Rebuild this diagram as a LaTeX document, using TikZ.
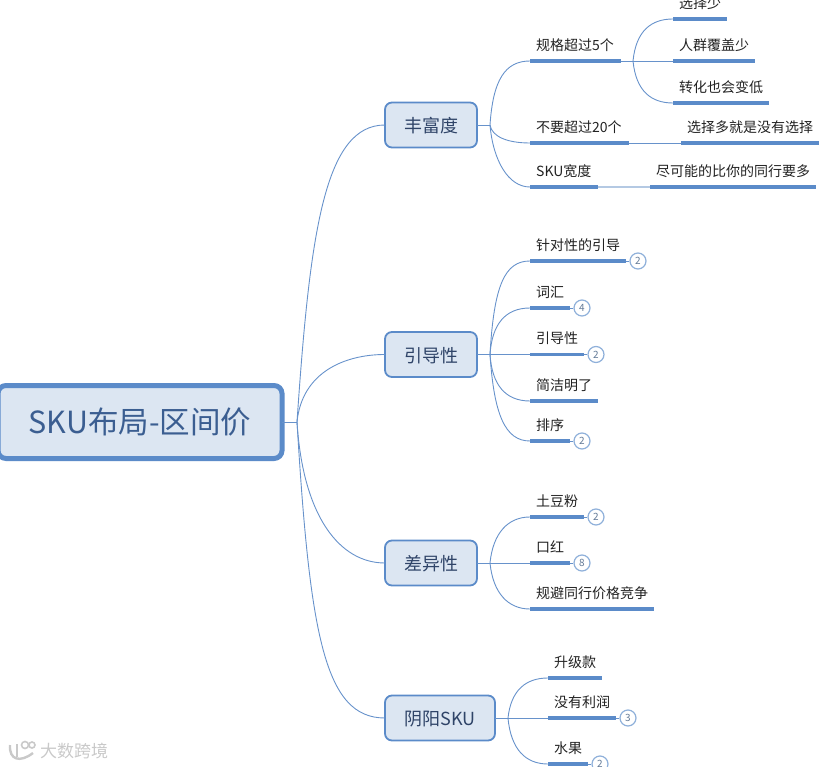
\documentclass[tikz,border=0pt]{standalone}
\usepackage{fontspec}
\setmainfont{Noto Sans CJK SC}
\usetikzlibrary{positioning}
\definecolor{mm-line}{HTML}{6792CB}
\definecolor{mm-bar}{HTML}{5B8BC9}
\definecolor{mm-soft}{HTML}{B4C9E3}
\definecolor{mm-ring}{HTML}{8FB0DA}
\definecolor{mm-fill}{HTML}{DCE6F2}
\definecolor{mm-title}{HTML}{3B5E91}
\definecolor{mm-topic}{HTML}{2F4468}
\definecolor{mm-text}{HTML}{222222}
\definecolor{mm-mark}{HTML}{C9C9C9}

\begin{document}
\begin{tikzpicture}[
    x=1pt, y=-1pt,
    root/.style={draw=mm-bar, fill=mm-fill, line width=5pt, rounded corners=8pt, minimum width=284pt, minimum height=73pt, text=mm-title, font=\fontsize{30.5}{34}\selectfont, outer sep=0pt},
    topic/.style={draw=mm-bar, fill=mm-fill, line width=1.8pt, rounded corners=7pt, minimum height=45pt, text height=18pt, text depth=2.4pt, text=mm-topic, font=\fontsize{18}{22}\selectfont, outer sep=0pt},
    bar/.style={fill=mm-bar, inner sep=0pt, minimum height=3.4pt, anchor=west, outer sep=0pt},
    leaf/.style={anchor=west, inner sep=0pt, text=mm-text, font=\fontsize{14}{17}\selectfont},
    count/.style={circle, draw=mm-ring, fill=white, line width=1.2pt, minimum size=16pt, inner sep=0pt, text=mm-ring!70!black, font=\fontsize{10}{12}\selectfont},
    conn/.style={draw=mm-line, line width=0.9pt},
    soft/.style={draw=mm-soft, line width=1.4pt}
]
\useasboundingbox (0,0) rectangle (819,767);
\clip (0,0) rectangle (819,767);

% =========================================================================
% ROOT AND THE FOUR TOPICS
% =========================================================================
\node[root] (root) at (140,422) {SKU布局-区间价};
\coordinate (hubroot) at (297,422);

\node[topic, minimum width=92pt] (rich) at (431,125) {丰富度};
\node[topic, minimum width=92pt] (guide) at (431,354.5) {引导性};
\node[topic, minimum width=92pt] (diff) at (431,563) {差异性};
\node[topic, minimum width=110pt] (yinyang) at (440,718) {阴阳SKU};

\draw[conn] (root.east) -- (hubroot);
\draw[conn] (hubroot) .. controls +(13,-192) and +(-60,0) .. (rich.west);
\draw[conn] (hubroot) .. controls +(5,-50) and +(-40,0) .. (guide.west);
\draw[conn] (hubroot) .. controls +(6,95) and +(-45,0) .. (diff.west);
\draw[conn] (hubroot) .. controls +(13,215) and +(-60,0) .. (yinyang.west);

% =========================================================================
% TOPIC 1: RICHNESS
% =========================================================================
\coordinate (hubrich) at (490,125);
\node[bar, minimum width=91pt] (spec) at (530,61) {};
\node[bar, minimum width=99pt] (limit) at (530,143) {};
\node[bar, minimum width=68pt] (width) at (530,187) {};
\node[leaf] (spectext) at (536,45) {规格超过5个};
\node[leaf] (limittext) at (536,127) {不要超过20个};
\node[leaf] (widthtext) at (536,171) {SKU宽度};

\draw[conn] (rich.east) -- (hubrich);
\draw[conn] (hubrich) .. controls +(3,-45) and +(-25,0) .. (spec.west);
\draw[conn] (hubrich) .. controls +(2,12) and +(-22,0) .. (limit.west);
\draw[conn] (hubrich) .. controls +(3,35) and +(-22,0) .. (width.west);

% third level under the first entry
\coordinate (hubspec) at (633,61);
\node[bar, minimum width=54pt] (few) at (673,19) {};
\node[bar, minimum width=82pt] (crowd) at (673,61) {};
\node[bar, minimum width=96pt] (convert) at (673,103) {};
\node[leaf] (fewtext) at (679,3) {选择少};
\node[leaf] (crowdtext) at (679,45) {人群覆盖少};
\node[leaf] (converttext) at (679,87) {转化也会变低};

\draw[conn] (spec.east) -- (crowd.west);
\draw[conn] (hubspec) .. controls +(3,-30) and +(-22,0) .. (few.west);
\draw[conn] (hubspec) .. controls +(3,30) and +(-22,0) .. (convert.west);

\node[bar, minimum width=138pt] (many) at (681,143) {};
\node[leaf] (manytext) at (687,127) {选择多就是没有选择};
\draw[conn] (limit.east) -- (many.west);

\node[bar, minimum width=166pt] (peers) at (650,187) {};
\node[leaf] (peerstext) at (656,171) {尽可能的比你的同行要多};
\draw[soft] (width.east) -- (peers.west);

% =========================================================================
% TOPIC 2: GUIDANCE
% =========================================================================
\coordinate (hubguide) at (490,354.5);
\node[bar, minimum width=96pt] (target) at (530,261) {};
\node[bar, minimum width=40pt] (words) at (530,308) {};
\node[bar, minimum width=54pt] (lead) at (530,354.5) {};
\node[bar, minimum width=68pt] (brief) at (530,401) {};
\node[bar, minimum width=40pt] (order) at (530,441) {};
\node[leaf] (targettext) at (536,245) {针对性的引导};
\node[leaf] (wordstext) at (536,292) {词汇};
\node[leaf] (leadtext) at (536,338) {引导性};
\node[leaf] (brieftext) at (536,385) {简洁明了};
\node[leaf] (ordertext) at (536,425) {排序};
\node[count] (targetnum) at (638,261) {2};
\node[count] (wordsnum) at (582,308) {4};
\node[count] (leadnum) at (596,354.5) {2};
\node[count] (ordernum) at (582,441) {2};

\draw[conn] (guide.east) -- (lead.west);
\draw[conn] (hubguide) .. controls +(4,-70) and +(-25,0) .. (target.west);
\draw[conn] (hubguide) .. controls +(2,-30) and +(-25,0) .. (words.west);
\draw[conn] (hubguide) .. controls +(2,30) and +(-25,0) .. (brief.west);
\draw[conn] (hubguide) .. controls +(4,60) and +(-25,0) .. (order.west);
\draw[conn] (target.east) -- (targetnum);
\draw[conn] (words.east) -- (wordsnum);
\draw[conn] (lead.east) -- (leadnum);
\draw[conn] (order.east) -- (ordernum);

% =========================================================================
% TOPIC 3: DIFFERENCE
% =========================================================================
\coordinate (hubdiff) at (490,563);
\node[bar, minimum width=54pt] (starch) at (530,517) {};
\node[bar, minimum width=40pt] (lipstick) at (530,563) {};
\node[bar, minimum width=124pt] (price) at (530,609) {};
\node[leaf] (starchtext) at (536,501) {土豆粉};
\node[leaf] (lipsticktext) at (536,547) {口红};
\node[leaf] (pricetext) at (536,593) {规避同行价格竞争};
\node[count] (starchnum) at (596,517) {2};
\node[count] (lipsticknum) at (582,563) {8};

\draw[conn] (diff.east) -- (lipstick.west);
\draw[conn] (hubdiff) .. controls +(3,-30) and +(-22,0) .. (starch.west);
\draw[conn] (hubdiff) .. controls +(3,30) and +(-22,0) .. (price.west);
\draw[conn] (starch.east) -- (starchnum);
\draw[conn] (lipstick.east) -- (lipsticknum);

% =========================================================================
% TOPIC 4: YIN-YANG SKU
% =========================================================================
\coordinate (hubyin) at (508,718);
\node[bar, minimum width=68pt] (profit) at (548,718) {};
\node[bar, minimum width=54pt] (upgrade) at (548,678) {};
\node[bar, minimum width=40pt] (fruit) at (548,764) {};
\node[leaf] (upgradetext) at (554,662) {升级款};
\node[leaf] (profittext) at (554,702) {没有利润};
\node[leaf] (fruittext) at (554,748) {水果};
\node[count] (profitnum) at (628,718) {3};
\node[count] (fruitnum) at (600,764) {2};

\draw[conn] (yinyang.east) -- (profit.west);
\draw[conn] (hubyin) .. controls +(3,-28) and +(-22,0) .. (upgrade.west);
\draw[conn] (hubyin) .. controls +(3,32) and +(-22,0) .. (fruit.west);
\draw[conn] (profit.east) -- (profitnum);
\draw[conn] (fruit.east) -- (fruitnum);

% =========================================================================
% WATERMARK
% =========================================================================
\draw[mm-mark, line width=2.4pt] (10,745) .. controls (9,760) and (20,763) .. (33,753);
\draw[mm-mark, line width=2pt] (17,744) -- (17,757);
\draw[mm-mark, line width=1.6pt] (25,745) circle (3.5pt);
\draw[mm-mark, line width=1.6pt] (32,745) circle (3pt);
\node[anchor=west, inner sep=0pt, text=mm-mark, font=\fontsize{17}{20}\selectfont] (mark) at (40,751) {大数跨境};

\end{tikzpicture}
\end{document}
